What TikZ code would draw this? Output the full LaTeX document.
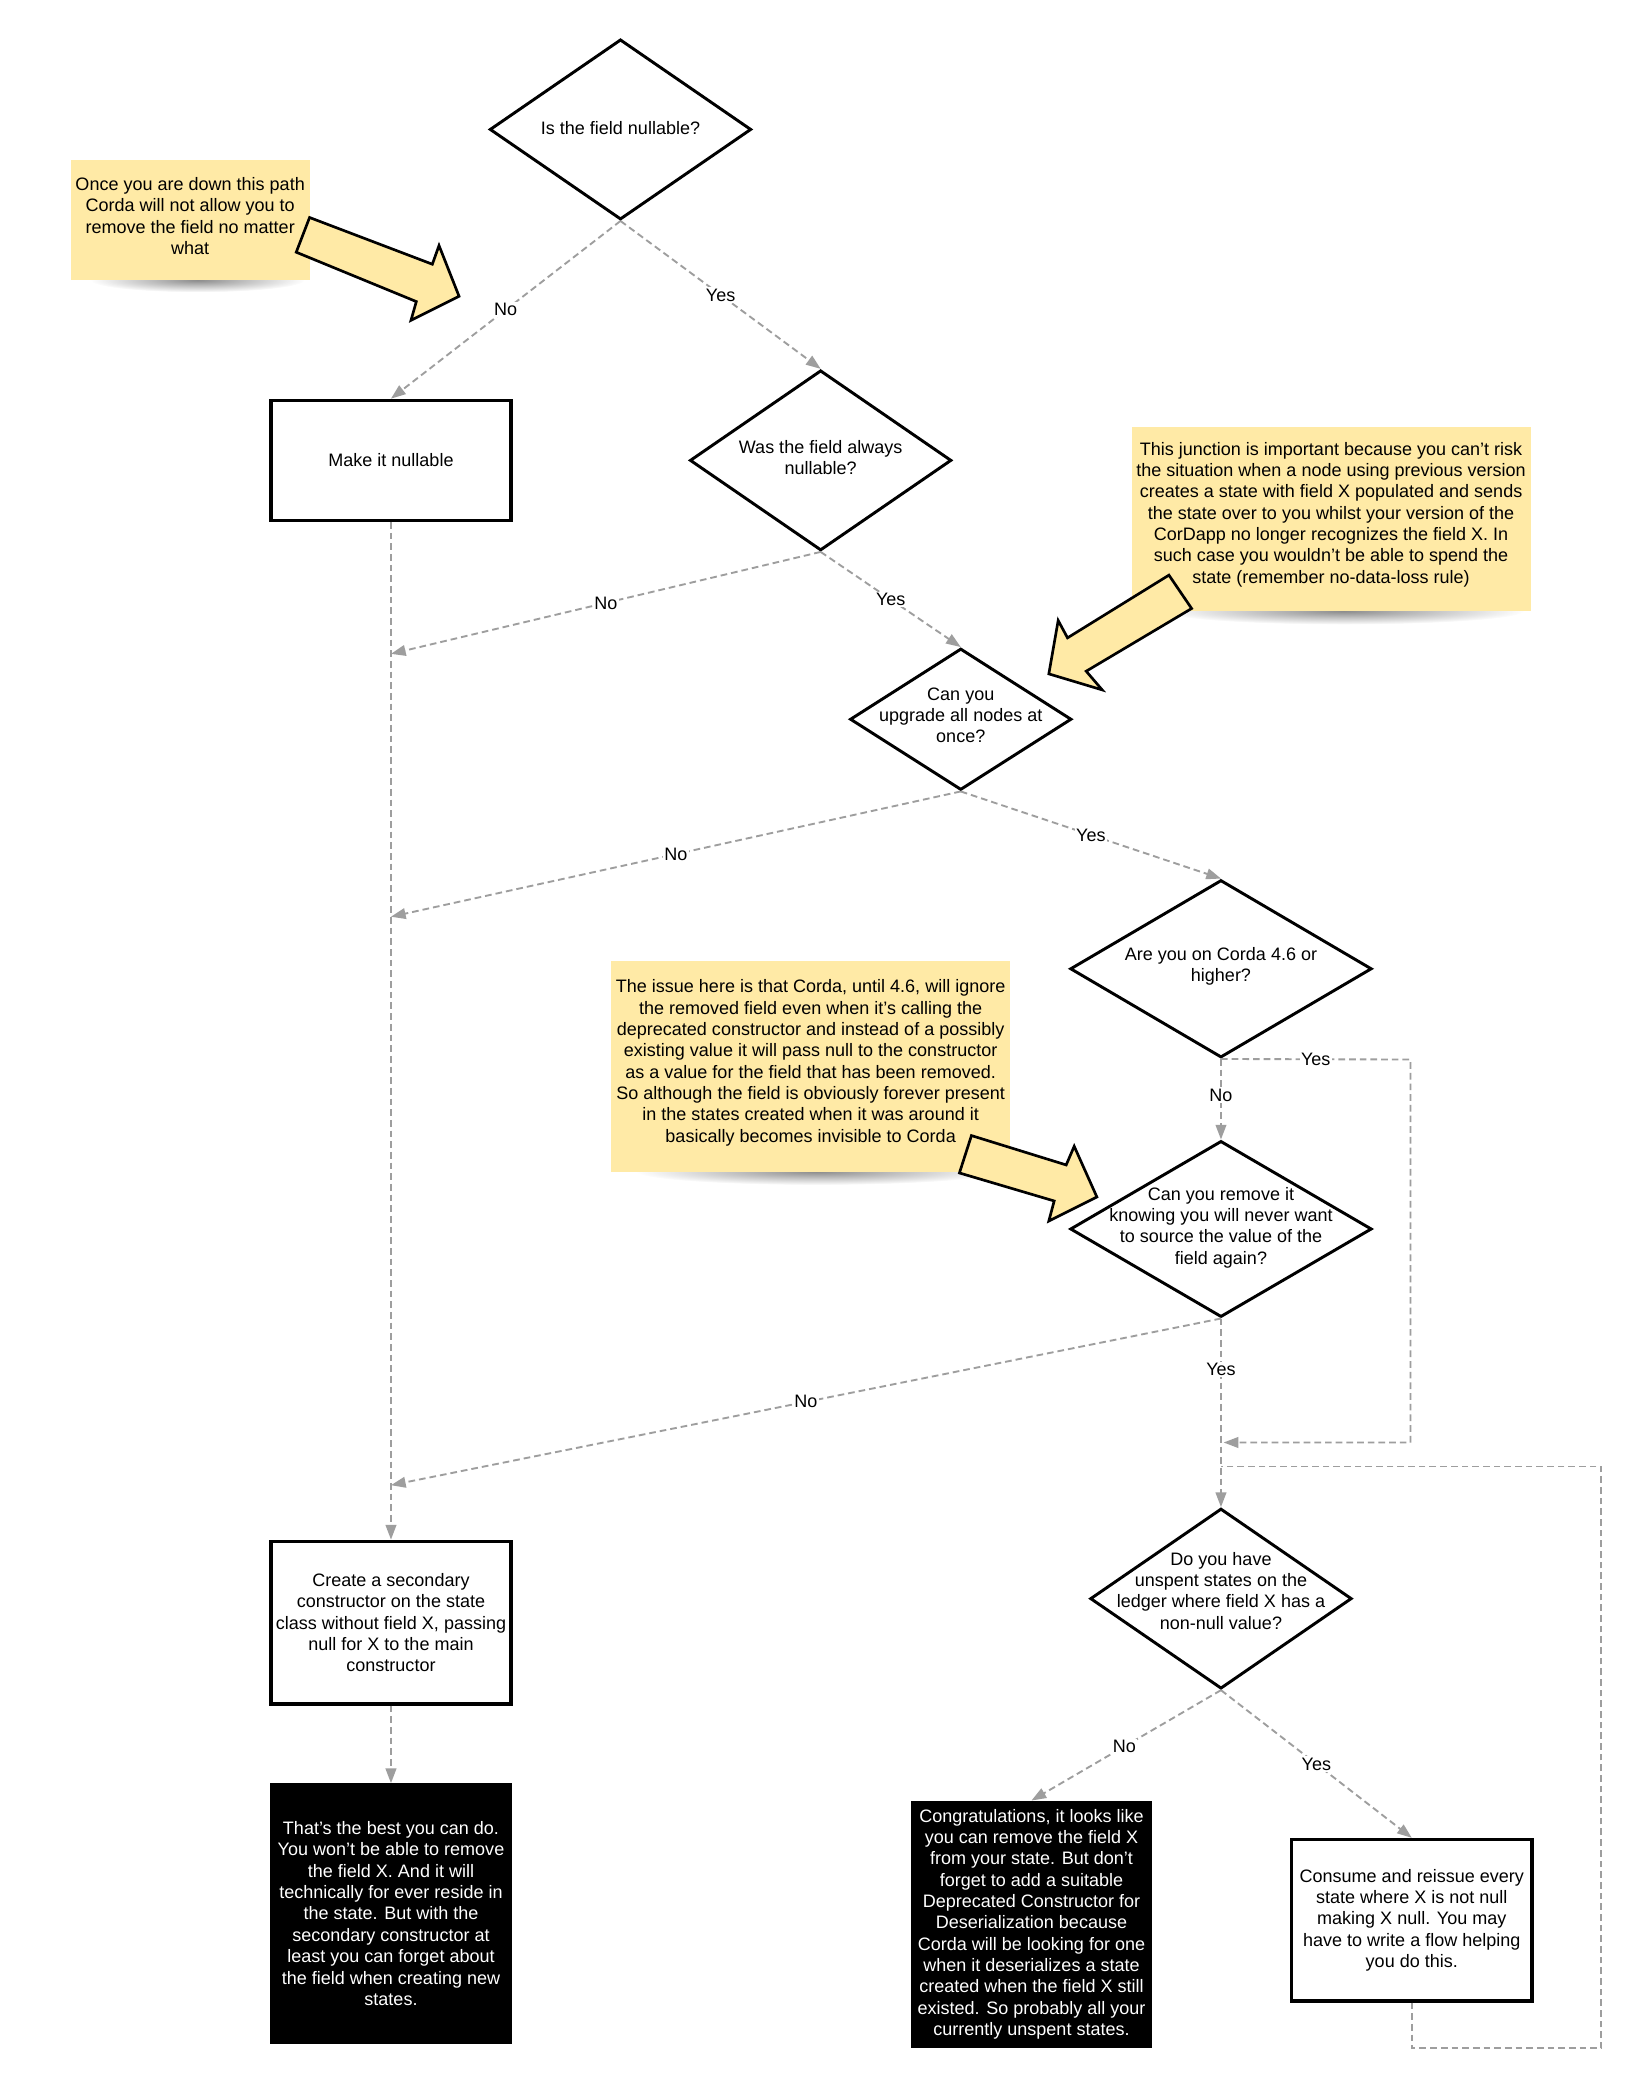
\documentclass[tikz,border=0pt]{standalone}
\usepackage{fontspec}
\setmainfont{Liberation Sans}
\usetikzlibrary{shapes.geometric,arrows.meta,fadings}
\definecolor{notey}{RGB}{255,234,166}
\definecolor{conng}{RGB}{158,158,158}
\tikzfading[name=softshadow, inner color=transparent!0, outer color=transparent!100]
\begin{document}
\begin{tikzpicture}[x=1pt,y=-1pt,
  every node/.style={font=\fontsize{13.5}{16}\selectfont},
  dia/.style={diamond, draw=black, line width=2.2pt, inner sep=0pt, fill=white},
  box/.style={rectangle, draw=black, line width=2.5pt, fill=white, align=center, inner sep=0pt},
  blackbox/.style={rectangle, fill=black, text=white, align=center, inner sep=0pt},
  note/.style={rectangle, fill=notey, inner sep=0pt},
  txt/.style={align=center, inner sep=0pt},
  conn/.style={draw=conng, line width=1.4pt, dash pattern=on 5pt off 3pt, -{Triangle[length=11pt,width=8pt]}},
  plain/.style={draw=conng, line width=1.4pt, dash pattern=on 5pt off 3pt},
  lbl/.style={fill=white, inner sep=1pt, text=black},
  barrow/.style={fill=notey, draw=black, line width=2pt, line join=miter},
  shadowband/.style={fill=black, opacity=0.45, path fading=softshadow}
]
\useasboundingbox (0,0) rectangle (1230,1567);
\fill[white] (0,0) rectangle (1230,1567);

% ---------- nodes ----------
\node[dia, minimum width=196pt, minimum height=135pt] (d1) at (465,97) {};
\node[txt] (t1) at (465,96) {Is the field nullable?};

\node[box, minimum width=180pt, minimum height=90pt] (nul) at (293,345) {Make it nullable};

\node[dia, minimum width=196pt, minimum height=135pt] (d2) at (615,345) {};
\node[txt] (t2) at (615,343) {Was the field always\\nullable?};

\node[dia, minimum width=166pt, minimum height=106pt] (d3) at (720,539) {};
\node[txt] (t3) at (720,536) {Can you\\upgrade all nodes at\\once?};

\node[dia, minimum width=226pt, minimum height=133pt] (d4) at (915,726) {};
\node[txt] (t4) at (915,724) {Are you on Corda 4.6 or\\higher?};

\node[dia, minimum width=226pt, minimum height=132pt] (d5) at (915,921) {};
\node[txt] (t5) at (915,920) {Can you remove it\\knowing you will never want\\to source the value of the\\field again?};

\node[dia, minimum width=196pt, minimum height=135pt] (d6) at (915,1198) {};
\node[txt] (t6) at (915,1192) {Do you have\\unspent states on the\\ledger where field X has a\\non-null value?};

\node[box, minimum width=180pt, minimum height=122pt] (cre) at (293,1216)
  {Create a secondary\\constructor on the state\\class without field X, passing\\null for X to the main\\constructor};

\node[blackbox, minimum width=182pt, minimum height=195pt] (best) at (293,1434)
  {That's the best you can do.\\You won't be able to remove\\the field X. And it will\\technically for ever reside in\\the state. But with the\\secondary constructor at\\least you can forget about\\the field when creating new\\states.};

\node[blackbox, minimum width=180pt, minimum height=185pt] (cg) at (773,1442)
  {Congratulations, it looks like\\you can remove the field X\\from your state. But don't\\forget to add a suitable\\Deprecated Constructor for\\Deserialization because\\Corda will be looking for one\\when it deserializes a state\\created when the field X still\\existed. So probably all your\\currently unspent states.};

\node[box, minimum width=180pt, minimum height=121pt] (con) at (1058,1439)
  {Consume and reissue every\\state where X is not null\\making X null. You may\\have to write a flow helping\\you do this.};

% ---------- connectors ----------
\coordinate (j1) at (293,490);
\coordinate (j2) at (293,687);
\coordinate (j3) at (293,1113);
\coordinate (r1) at (1057,794);
\coordinate (r2) at (1057,1081);
\coordinate (m1) at (917,1081);
\coordinate (l1) at (1058,1535);
\coordinate (l2) at (1200,1535);
\coordinate (l3) at (1200,1099);
\coordinate (l4) at (915,1099);

\draw[conn] (d1.south) -- node[lbl]{No} (nul.north);
\draw[conn] (d1.south) -- node[lbl]{Yes} (d2.north);
\draw[conn] (d2.south) -- node[lbl]{No} (j1);
\draw[conn] (d2.south) -- node[lbl]{Yes} (d3.north);
\draw[conn] (d3.south) -- node[lbl]{No} (j2);
\draw[conn] (d3.south) -- node[lbl]{Yes} (d4.north);
\draw[conn] (d4.south) -- node[lbl]{Yes} (r1) -- (r2) -- (m1);
\draw[conn] (d4.south) -- node[lbl,pos=0.45]{No} (d5.north);
\draw[conn] (d5.south) -- node[lbl]{No} (j3);
\draw[conn] (d5.south) -- node[lbl,pos=0.27]{Yes} (d6.north);
\draw[plain] (con.south) -- (l1) -- (l2) -- (l3) -- (l4);
\draw[conn] (nul.south) -- (cre.north);
\draw[conn] (cre.south) -- (best.north);
\draw[conn] (d6.south) -- node[lbl,pos=0.51]{No} (cg.north);
\draw[conn] (d6.south) -- node[lbl]{Yes} (con.north);

% ---------- notes ----------
\fill[shadowband] (148,210) ellipse (80 and 9);
\node[note, minimum width=179pt, minimum height=90pt] (n1) at (142.5,165) {};
\node[txt] (nt1) at (142.5,162) {Once you are down this path\\Corda will not allow you to\\remove the field no matter\\what};

\fill[shadowband] (1007,458) ellipse (135 and 10);
\node[note, minimum width=299pt, minimum height=138pt] (n2) at (997.5,389) {};
\node[txt] (nt2) at (997.5,385.5) {This junction is important because you can't risk\\the situation when a node using previous version\\creates a state with field X populated and sends\\the state over to you whilst your version of the\\CorDapp no longer recognizes the field X. In\\such case you wouldn't be able to spend the\\state (remember no-data-loss rule)};

\fill[shadowband] (612,878) ellipse (135 and 10);
\node[note, minimum width=299pt, minimum height=158pt] (n3) at (607.5,799) {};
\node[txt] (nt3) at (607.5,796.5) {The issue here is that Corda, until 4.6, will ignore\\the removed field even when it's calling the\\deprecated constructor and instead of a possibly\\existing value it will pass null to the constructor\\as a value for the field that has been removed.\\So although the field is obviously forever present\\in the states created when it was around it\\basically becomes invisible to Corda};

% ---------- block arrows ----------
\draw[barrow] (232,163) -- (324,198) -- (329,184) -- (344,222) -- (308,240) -- (312,226) -- (222,189) -- cycle;
\draw[barrow] (876,431) -- (893,456) -- (814,503) -- (826,517) -- (786,505) -- (793,465) -- (800,478) -- cycle;
\draw[barrow] (728,851) -- (799,873) -- (805,859) -- (822,897) -- (786,915) -- (790,900) -- (719,879) -- cycle;
\end{tikzpicture}
\end{document}
